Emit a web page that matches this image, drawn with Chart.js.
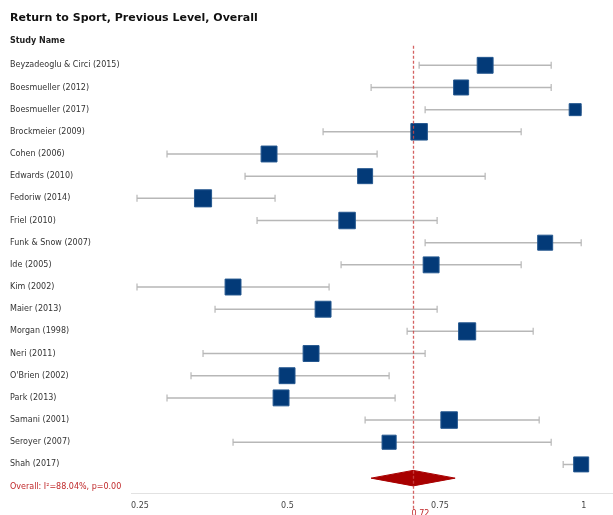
<!DOCTYPE html>
<html>
<head>
<meta charset="utf-8">
<script src="https://cdn.jsdelivr.net/npm/chart.js@4.4.0/dist/chart.umd.min.js"></script>
<style>
  html, body { margin: 0; padding: 0; background: #fff; overflow: hidden; }
  #wrap { width: 613px; height: 515px; position: relative; }
  #forest { display: block; }
</style>
</head>
<body>
<div id="wrap"><canvas id="forest"></canvas></div>
<script>
// data
const studies = [
  'Beyzadeoglu & Circi (2015)', 'Boesmueller (2012)', 'Boesmueller (2017)', 'Brockmeier (2009)',
  'Cohen (2006)', 'Edwards (2010)', 'Fedoriw (2014)', 'Friel (2010)', 'Funk & Snow (2007)',
  'Ide (2005)', 'Kim (2002)', 'Maier (2013)', 'Morgan (1998)', 'Neri (2011)', "O'Brien (2002)",
  'Park (2013)', 'Samani (2001)', 'Seroyer (2007)', 'Shah (2017)'
];
const estimates = [0.84, 0.80, 0.99, 0.73, 0.48, 0.64, 0.37, 0.61, 0.94, 0.75, 0.42, 0.57, 0.81, 0.55, 0.51, 0.50, 0.78, 0.68, 1.00];
const lower     = [0.73, 0.65, 0.74, 0.57, 0.31, 0.44, 0.26, 0.46, 0.74, 0.60, 0.26, 0.39, 0.71, 0.37, 0.35, 0.31, 0.64, 0.42, 0.97];
const upper     = [0.95, 0.95, 1.00, 0.90, 0.66, 0.84, 0.49, 0.76, 1.00, 0.90, 0.58, 0.76, 0.92, 0.74, 0.68, 0.69, 0.93, 0.95, 1.00];
const weights   = [5.3, 5.0, 4.0, 5.5, 5.3, 5.0, 5.7, 5.5, 5.0, 5.3, 5.3, 5.3, 5.7, 5.3, 5.3, 5.3, 5.5, 4.7, 5.0];
const overallLabel = 'Overall: I\u00b2=88.04%, p=0.00';
const overallEst = 0.72;
const overallLo = 0.65;
const overallHi = 0.79;
const xTicks = [0.25, 0.5, 0.75, 1];

const FONT = 'DejaVu Sans';
const NAVY = '#033a78';
const RED = '#a80000';
const TEXT_RED = '#c0282a';
const WHISKER = '#b7b7b7';

const rowLabels = studies.concat([overallLabel]);
const overallRow = studies.length;

// whiskers: lo -> hi for each study, null breaks the line between rows
const whiskerPts = [];
studies.forEach((s, i) => {
  whiskerPts.push({ x: lower[i], y: i }, { x: upper[i], y: i }, { x: null, y: null });
});

// diamond for the pooled estimate
const dy = overallRow - 0.38, dh = 0.35;
const diamondPts = [
  { x: overallLo, y: dy }, { x: overallEst, y: dy - dh }, { x: overallHi, y: dy },
  { x: overallEst, y: dy + dh }, { x: overallLo, y: dy }
];

// dashed reference line + its value under the axis
const refLine = {
  id: 'refLine',
  afterDatasetsDraw(chart) {
    const { ctx, chartArea, scales } = chart;
    const x = Math.round(scales.x.getPixelForValue(overallEst)) + 0.5;
    ctx.save();
    ctx.strokeStyle = 'rgba(205, 70, 70, 0.85)';
    ctx.lineWidth = 1.3;
    ctx.setLineDash([3, 2]);
    ctx.beginPath();
    ctx.moveTo(x, chartArea.top);
    ctx.lineTo(x, chartArea.bottom + 16);
    ctx.stroke();
    ctx.setLineDash([]);
    ctx.fillStyle = TEXT_RED;
    ctx.font = '8px ' + FONT;
    ctx.textAlign = 'left';
    ctx.textBaseline = 'middle';
    ctx.fillText(overallEst.toFixed(2), x - 2, chartArea.bottom + 21);
    ctx.restore();
  }
};

new Chart(document.getElementById('forest'), {
  type: 'scatter',
  data: {
    datasets: [
      {
        label: 'Studies',
        data: estimates.map((v, i) => ({ x: v, y: i })),
        pointStyle: 'rect',
        pointRadius: weights.map(w => w * 3 / Math.SQRT2),
        pointHoverRadius: weights.map(w => w * 3 / Math.SQRT2),
        backgroundColor: NAVY,
        borderColor: '#24578f',
        borderWidth: 1,
        order: 1
      },
      {
        label: 'CI',
        data: whiskerPts,
        showLine: true,
        spanGaps: false,
        borderColor: WHISKER,
        borderWidth: 1.5,
        pointStyle: 'line',
        rotation: 90,
        pointRadius: 3.5,
        pointHoverRadius: 3.5,
        pointBorderColor: WHISKER,
        pointBorderWidth: 1.2,
        order: 3
      },
      {
        label: 'Overall',
        data: diamondPts,
        showLine: true,
        fill: 'shape',
        backgroundColor: RED,
        borderColor: RED,
        borderWidth: 1,
        pointRadius: 0,
        tension: 0,
        order: 2
      }
    ]
  },
  options: {
    responsive: true,
    maintainAspectRatio: false,
    animation: false,
    layout: { autoPadding: false, padding: { left: 10, right: 0, top: 0, bottom: 4 } },
    plugins: {
      legend: { display: false },
      tooltip: { enabled: false },
      title: {
        display: true,
        text: 'Return to Sport, Previous Level, Overall',
        align: 'start',
        color: '#111',
        font: { family: FONT, size: 11, weight: 'bold' },
        padding: { top: 12, bottom: 0 }
      },
      subtitle: {
        display: true,
        text: 'Study Name',
        align: 'start',
        color: '#222',
        font: { family: FONT, size: 8, weight: 'bold' },
        padding: { top: 11, bottom: 0 }
      }
    },
    scales: {
      x: {
        type: 'linear',
        min: 0.25,
        max: 1.053,
        afterBuildTicks: s => { s.ticks = xTicks.map(v => ({ value: v })); },
        afterFit: s => { s.paddingLeft = 0; s.paddingRight = 0; s.height = 18; },
        ticks: {
          align: 'start',
          padding: 8,
          color: '#444',
          font: { family: FONT, size: 8 },
          callback: v => String(v)
        },
        grid: { display: false, drawTicks: false, tickLength: 0 },
        border: { display: true, color: '#e2e2e2', width: 1 }
      },
      y: {
        type: 'linear',
        reverse: true,
        min: -0.88,
        max: 19.29,
        afterBuildTicks: s => { s.ticks = rowLabels.map((l, i) => ({ value: i })); },
        afterFit: s => { s.width = 121; },
        ticks: {
          autoSkip: false,
          crossAlign: 'far',
          color: c => (c.tick && c.tick.value === overallRow ? TEXT_RED : '#333'),
          font: { family: FONT, size: 8 },
          callback: v => rowLabels[v]
        },
        grid: { display: false, drawTicks: false, tickLength: 0 },
        border: { display: false }
      }
    }
  },
  plugins: [refLine]
});
</script>
</body>
</html>
